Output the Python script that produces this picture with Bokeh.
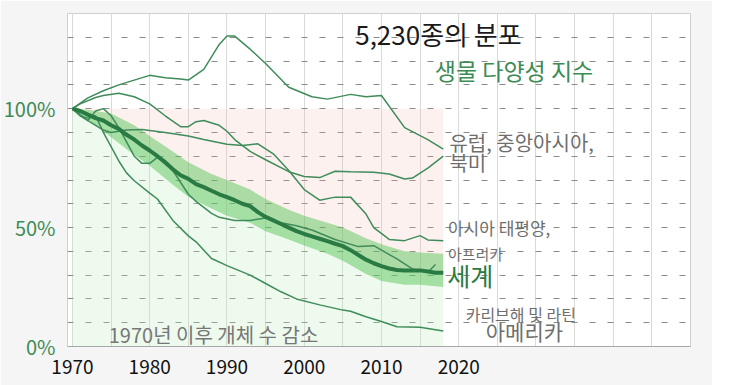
from bokeh.plotting import figure
from bokeh.models import FixedTicker, Label, Range1d
from bokeh.embed import file_html
from bokeh.resources import INLINE

# ---------------- data ----------------
years = list(range(1970, 2019))
world = [100, 99, 97.5, 96, 95, 93, 91.5, 89, 87, 84.5,
         82.4, 80, 77.5, 74.5, 72, 70.5, 68.3, 67, 65.5, 64,
         62.8, 61.5, 60, 59, 56.5, 54.5, 53, 51.5, 50, 48.5,
         47.3, 46.3, 45.3, 44.3, 43.2, 42.2, 40.5, 38.5, 36.5, 35,
         33.8, 32.8, 32.2, 32, 32, 32, 31.5, 31, 31]

band_years = [1970, 1972, 1975, 1978, 1980, 1983, 1985, 1988, 1990, 1993,
              1995, 1998, 2000, 2003, 2005, 2008, 2010, 2013, 2015, 2018]
band_hi = [100, 99.5, 98, 93, 88.5, 82, 77.5, 72.5, 70, 66,
           62, 57.5, 55, 52, 50, 45.5, 43, 40, 39.5, 39]
band_lo = [100, 95.5, 88, 80.5, 76, 68, 63, 58, 55, 52,
           48.5, 45, 42.5, 39, 36, 30.5, 27.5, 26, 26, 25]

a_years = [1970, 1972, 1974, 1976, 1978, 1980, 1982, 1984, 1985, 1987, 1989, 1990,
           1991, 1993, 1995, 1998, 2001, 2003, 2006, 2008, 2010, 2013, 2016, 2018]
a_vals = [100, 104.5, 107.5, 110, 112, 114, 113, 112.5, 112, 116.5, 127, 130.5,
          130.5, 125, 119, 109, 105, 104, 106, 105, 105.5, 92, 87, 83]

b_years = [1970, 1971, 1973, 1974, 1976, 1978, 1980, 1982, 1984, 1985, 1986, 1987, 1989, 1990,
           1991, 1993, 1995, 1998, 2000, 2002, 2004, 2006, 2009, 2011, 2013, 2014, 2016, 2018]
b_vals = [100, 102, 104.7, 105.5, 106.5, 105, 102, 97, 92.4, 92.4, 94.5, 95, 93, 90.5,
          87, 82, 78.5, 73.5, 71.5, 71, 73.7, 73.5, 73.3, 72.5, 70.4, 70.8, 75, 80]

c_years = [1970, 1972, 1974, 1975, 1977, 1979, 1982, 1985, 1987, 1990, 1992, 1994, 1996,
           1998, 2000, 2002, 2004, 2006, 2008, 2009, 2011, 2013, 2015, 2016, 2018]
c_vals = [100, 95, 91, 90, 91, 91.2, 90, 88.5, 87, 85, 84.5, 85.2, 81,
          74, 66, 61.5, 62.8, 62.8, 55.7, 50, 45, 44.5, 46.6, 44.8, 44.5]

d_years = [1970, 1971, 1972, 1973, 1974, 1975, 1976, 1977, 1978, 1979, 1980, 1981, 1983,
           1985, 1986, 1988, 1989, 1991, 1993, 1995, 1997, 1999, 2001, 2004, 2007, 2009,
           2012, 2014, 2016, 2017]
d_vals = [100, 97, 95, 99, 100, 97, 92, 86, 80, 77, 77, 79.5, 74,
          64, 61, 56, 54.3, 53, 53, 54, 52, 50.8, 49, 45, 42, 42.4,
          36.8, 32.6, 31.2, 34.5]

e_years = [1970, 1971, 1972, 1973, 1974, 1975, 1976, 1977, 1978, 1980, 1981, 1983, 1985, 1986,
           1988, 1990, 1993, 1995, 1997, 1999, 2002, 2005, 2006, 2008, 2010, 2012, 2015, 2018]
e_vals = [100, 97, 96, 97, 90, 84, 78, 73, 69.7, 64.5, 62, 53, 46.5, 44,
          37, 34, 30, 26.5, 23, 20, 17.5, 15.3, 14.8, 12.5, 10.5, 8.3, 8.1, 6.5]

x_ticks = [1970, 1980, 1990, 2000, 2010, 2020]
x_grid = list(range(1970, 2050, 5))
y_ticks = [0, 50, 100]
y_tick_labels = ["0%", "50%", "100%"]
y_grid = list(range(10, 140, 10))

FONT = "Noto Sans CJK KR"
GREEN = "#3d8b55"
LINE = "#3f8c5b"
DARK = "#2a7a43"
GRAY = "#6e6e6e"

# ---------------- figure ----------------
p = figure(width=712, height=385, output_backend="svg", toolbar_location=None,
           x_range=Range1d(1969.36, 2050), y_range=Range1d(0, 140),
           min_border_left=60, min_border_right=22, min_border_top=13, min_border_bottom=39)
p.background_fill_color = "white"
p.border_fill_color = "#f5f5f5"
p.outline_line_color = "#d0d0d0"

p.xgrid.ticker = FixedTicker(ticks=x_grid)
p.xgrid.grid_line_color = "#dadada"
p.ygrid.ticker = FixedTicker(ticks=y_grid)
p.ygrid.grid_line_color = "#8a8a8a"
p.ygrid.grid_line_dash = "6 12"

# fills
p.varea(x=years, y1=world, y2=[100] * len(years), fill_color="#f4b8b2", fill_alpha=0.2)
p.varea(x=years, y1=[0] * len(years), y2=world, fill_color="#b8ebb8", fill_alpha=0.25)
p.varea(x=band_years, y1=band_lo, y2=band_hi, fill_color="#4cc24c", fill_alpha=0.45)

for xs, ys in [(a_years, a_vals), (b_years, b_vals), (c_years, c_vals),
               (d_years, d_vals), (e_years, e_vals)]:
    p.line(xs, ys, line_color=LINE, line_width=1.5)
p.line(years, world, line_color=DARK, line_width=4)

# axes
p.xaxis.ticker = FixedTicker(ticks=x_ticks)
p.xaxis.axis_line_color = "#a8a8a8"
p.xaxis.major_tick_line_color = None
p.xaxis.minor_tick_line_color = None
p.xaxis.major_label_text_font = FONT
p.xaxis.major_label_text_font_size = "19px"
p.xaxis.major_label_text_color = "#111111"
p.xaxis.major_label_standoff = 7

p.yaxis.ticker = FixedTicker(ticks=y_ticks)
p.yaxis.major_label_overrides = {t: s for t, s in zip(y_ticks, y_tick_labels)}
p.yaxis.axis_line_color = None
p.yaxis.major_tick_line_color = None
p.yaxis.minor_tick_line_color = None
p.yaxis.major_label_text_font = FONT
p.yaxis.major_label_text_font_size = "20px"
p.yaxis.major_label_text_color = GREEN
p.yaxis.major_label_standoff = 6

def lab(x, y, text, size, color, style="normal"):
    p.add_layout(Label(x=x, y=y, text=text, text_font=FONT, text_font_size=size,
                       text_color=color, text_baseline="middle", text_align="left",
                       text_font_style=style))

lab(2006.6, 131.6, "5,230종의 분포", "26px", "#1a1a1a")
lab(2016.9, 116.2, "생물 다양성 지수", "23px", GREEN)
lab(2018.8, 85.8, "유럽, 중앙아시아,", "20px", GRAY)
lab(2018.8, 77.2, "북미", "20px", GRAY)
lab(2018.6, 49.9, "아시아 태평양,", "17px", GRAY)
lab(2018.6, 39.3, "아프리카", "15px", GRAY)
lab(2018.5, 30.0, "세계", "25px", DARK)
lab(2020.9, 13.5, "카리브해 및 라틴", "16px", GRAY)
lab(2023.5, 6.6, "아메리카", "21px", GRAY)
lab(1974.7, 5.2, "1970년 이후 개체 수 감소", "20px", "#777777")

open("out.html", "w").write(file_html(p, INLINE))
